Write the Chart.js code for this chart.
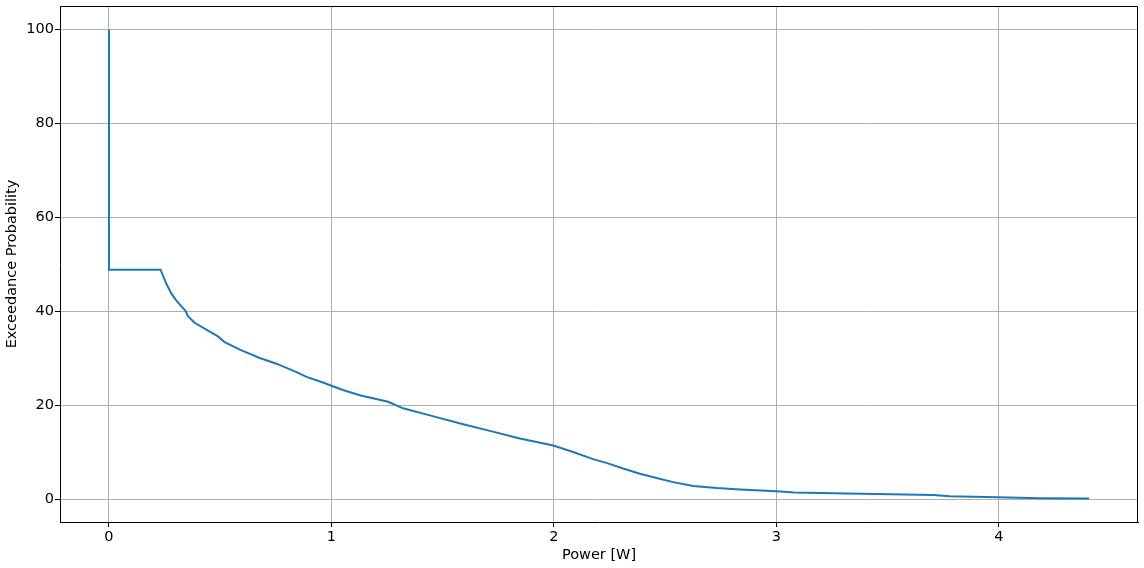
<!DOCTYPE html>
<html>
<head>
<meta charset="utf-8">
<script src="https://cdn.jsdelivr.net/npm/chart.js@4/dist/chart.umd.min.js"></script>
<style>
  html, body { margin: 0; padding: 0; background: #fff; }
  #wrap { width: 1144px; height: 568px; }
</style>
</head>
<body>
<div id="wrap"><canvas id="myChart"></canvas></div>
<script>
// power values [W]
var power = [0, 0, 0.232, 0.258, 0.281, 0.303, 0.326, 0.345, 0.355, 0.385, 0.453, 0.49, 0.52,
  0.588, 0.678, 0.753, 0.843, 0.888, 0.962, 1.0, 1.052, 1.127, 1.255, 1.322, 1.442, 1.592,
  1.712, 1.847, 1.997, 2.086, 2.176, 2.236, 2.311, 2.386, 2.461, 2.536, 2.626, 2.731, 2.836,
  3.0, 3.08, 3.316, 3.706, 3.78, 3.993, 4.185, 4.405];
// exceedance probability [%]
var exceedance = [100, 48.9, 48.9, 45.9, 43.8, 42.3, 41.1, 40.1, 39.0, 37.6, 35.7, 34.7, 33.5,
  31.9, 30.1, 28.9, 27.1, 26.1, 24.9, 24.2, 23.3, 22.2, 20.8, 19.4, 17.9, 16.0,
  14.6, 13.0, 11.5, 10.1, 8.6, 7.8, 6.6, 5.5, 4.6, 3.7, 2.9, 2.45, 2.15,
  1.77, 1.5, 1.28, 0.98, 0.7, 0.49, 0.28, 0.21];
var xTicks = [0, 1, 2, 3, 4];
var yTicks = [0, 20, 40, 60, 80, 100];

var points = power.map(function(p, i) { return { x: p, y: exceedance[i] }; });

// top and right spines, chart.js only draws left/bottom
var frame = {
  id: 'frame',
  afterDraw: function(chart) {
    var a = chart.chartArea, c = chart.ctx;
    c.save();
    c.strokeStyle = '#000';
    c.lineWidth = 1;
    c.beginPath();
    c.moveTo(a.left, a.top + 0.5);
    c.lineTo(a.right - 0.5, a.top + 0.5);
    c.lineTo(a.right - 0.5, a.bottom);
    c.stroke();
    c.restore();
  }
};

var font = { family: 'DejaVu Sans', size: 14.5 };

new Chart(document.getElementById('myChart'), {
  type: 'scatter',
  data: {
    datasets: [{
      data: points,
      showLine: true,
      borderColor: '#1f77b4',
      borderWidth: 2,
      pointRadius: 0,
      tension: 0
    }]
  },
  options: {
    responsive: true,
    maintainAspectRatio: false,
    animation: false,
    layout: { padding: { left: 0, top: 6, right: 6, bottom: 0 } },
    plugins: { legend: { display: false }, tooltip: { enabled: false } },
    scales: {
      x: {
        type: 'linear',
        min: -0.22,
        max: 4.625,
        afterBuildTicks: function(scale) { scale.ticks = xTicks.map(function(v) { return { value: v }; }); },
        afterFit: function(scale) { scale.height = 46; scale.paddingLeft = 0; scale.paddingRight = 0; },
        ticks: { font: font, color: '#000', padding: 2, maxRotation: 0 },
        grid: { color: '#b0b0b0', tickColor: '#000', tickLength: 5 },
        border: { color: '#000' },
        title: { display: true, text: 'Power [W]', font: font, color: '#000', padding: { top: 0, bottom: 4 } }
      },
      y: {
        min: -4.78,
        max: 104.99,
        afterBuildTicks: function(scale) { scale.ticks = yTicks.map(function(v) { return { value: v }; }); },
        afterFit: function(scale) { scale.width = 60; scale.paddingTop = 0; scale.paddingBottom = 0; },
        ticks: { font: font, color: '#000', padding: 1 },
        grid: { color: '#b0b0b0', tickColor: '#000', tickLength: 5 },
        border: { color: '#000' },
        title: { display: true, text: 'Exceedance Probability', font: font, color: '#000', padding: { top: 4, bottom: 0 } }
      }
    }
  },
  plugins: [frame]
});
</script>
</body>
</html>
